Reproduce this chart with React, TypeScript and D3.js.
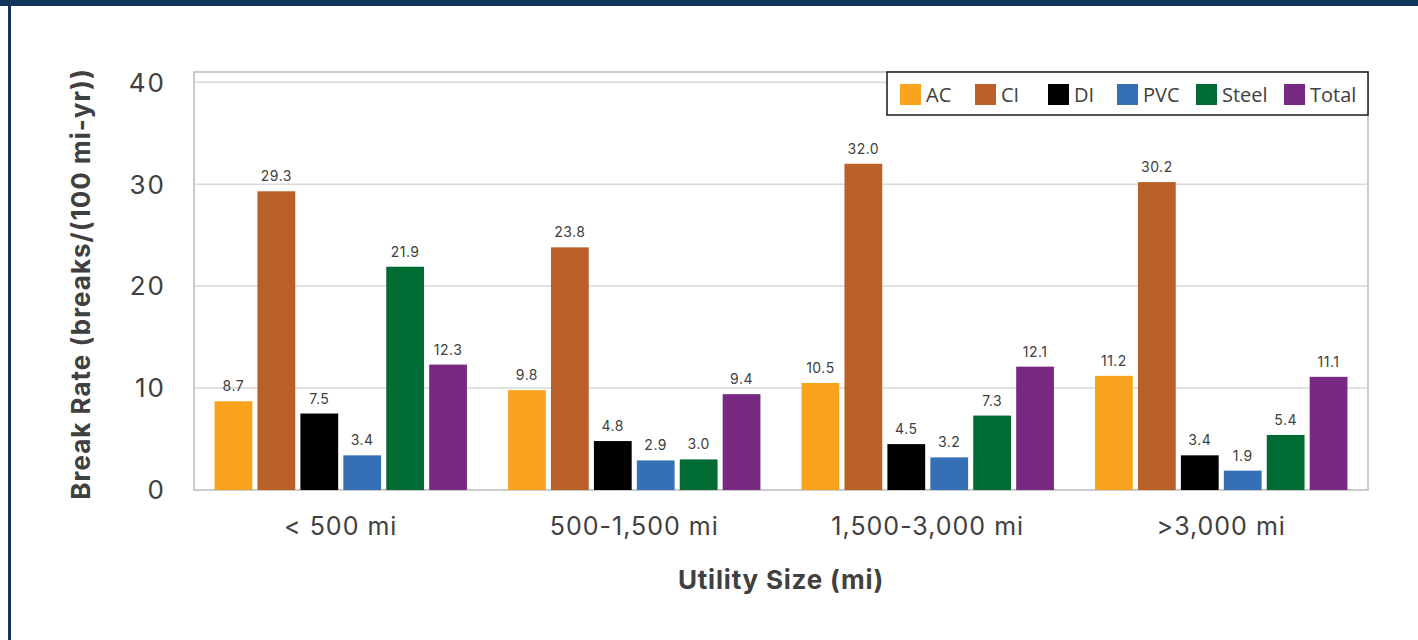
import React from "react";
import * as d3 from "d3";

const categories = ["< 500 mi", "500-1,500 mi", "1,500-3,000 mi", ">3,000 mi"];
const seriesNames = ["AC", "CI", "DI", "PVC", "Steel", "Total"];
const seriesColors = ["#F9A31E", "#BA5F28", "#000000", "#3570B7", "#006B33", "#782A83"];
const acValues = [8.7, 9.8, 10.5, 11.2];
const ciValues = [29.3, 23.8, 32.0, 30.2];
const diValues = [7.5, 4.8, 4.5, 3.4];
const pvcValues = [3.4, 2.9, 3.2, 1.9];
const steelValues = [21.9, 3.0, 7.3, 5.4];
const totalValues = [12.3, 9.4, 12.1, 11.1];
const yTicks = [0, 10, 20, 30, 40];
const yTitle = "Break Rate (breaks/(100 mi-yr))";
const xTitle = "Utility Size (mi)";

const series = [acValues, ciValues, diValues, pvcValues, steelValues, totalValues];

const W = 1418;
const H = 640;
const plot = { left: 194, right: 1368, top: 72, bottom: 490 };
const FONT = "Inter, 'Open Sans', sans-serif";
const LFONT = "'Open Sans', Lato, sans-serif";
const TXT = "#404040";

export default function App() {
  const y = d3.scaleLinear().domain([0, 41]).range([plot.bottom, plot.top]);
  const x0 = d3.scaleBand().domain(categories).range([plot.left, plot.right]).paddingInner(0.14).paddingOuter(0.07);
  const x1 = d3.scaleBand().domain(seriesNames).range([0, x0.bandwidth()]).paddingInner(0.12);

  const legendX = [900, 975, 1048, 1117, 1196, 1284];

  return (
    <svg width={W} height={H} style={{ display: "block", position: "absolute", left: 0, top: 0 }}>
      <rect x={0} y={0} width={W} height={H} fill="#ffffff" />
      <rect x={0} y={0} width={W} height={6} fill="#12355B" />
      <rect x={8} y={0} width={3} height={H} fill="#12355B" />

      {yTicks.map((t) =>
        t > 0 ? (
          <line key={"g" + t} x1={plot.left} x2={plot.right} y1={y(t)} y2={y(t)} stroke="#d9d9d9" strokeWidth={1.5} />
        ) : null
      )}
      <rect x={plot.left} y={plot.top} width={plot.right - plot.left} height={plot.bottom - plot.top} fill="none" stroke="#cccccc" strokeWidth={2} />

      {yTicks.map((t) => (
        <text key={"t" + t} x={166} y={y(t)} dy="0.36em" textAnchor="end" fontFamily={FONT} fontSize={26} letterSpacing={2} fill={TXT}>
          {t}
        </text>
      ))}

      {categories.map((c, ci) => (
        <g key={c} transform={`translate(${x0(c)},0)`}>
          {seriesNames.map((s, si) => {
            const v = series[si][ci];
            const bx = x1(s)!;
            return (
              <g key={s}>
                <rect x={bx} y={y(v)} width={x1.bandwidth()} height={plot.bottom - y(v)} fill={seriesColors[si]} />
                <text x={bx + x1.bandwidth() / 2} y={y(v) - 10} textAnchor="middle" fontFamily={FONT} fontSize={14} letterSpacing={0.5} fill={TXT}>
                  {v.toFixed(1)}
                </text>
              </g>
            );
          })}
          <text x={x0.bandwidth() / 2} y={535} textAnchor="middle" fontFamily={FONT} fontSize={25} letterSpacing={1} fill={TXT}>
            {c}
          </text>
        </g>
      ))}

      <rect x={887} y={72} width={481} height={43} fill="#ffffff" stroke="#1a1a1a" strokeWidth={1.5} />
      {seriesNames.map((s, i) => (
        <g key={"l" + s}>
          <rect x={legendX[i]} y={84} width={21} height={21} fill={seriesColors[i]} />
          <text x={legendX[i] + 26} y={94.5} dy="0.36em" fontFamily={LFONT} fontSize={20} fill={TXT}>
            {s}
          </text>
        </g>
      ))}

      <text x={781} y={589} textAnchor="middle" fontFamily={FONT} fontSize={26} fontWeight="bold" letterSpacing={0.8} fill={TXT}>
        {xTitle}
      </text>
      <text transform={`translate(90,${284}) rotate(-90)`} textAnchor="middle" fontFamily={FONT} fontSize={26} fontWeight="bold" letterSpacing={1} fill={TXT}>
        {yTitle}
      </text>
    </svg>
  );
}
